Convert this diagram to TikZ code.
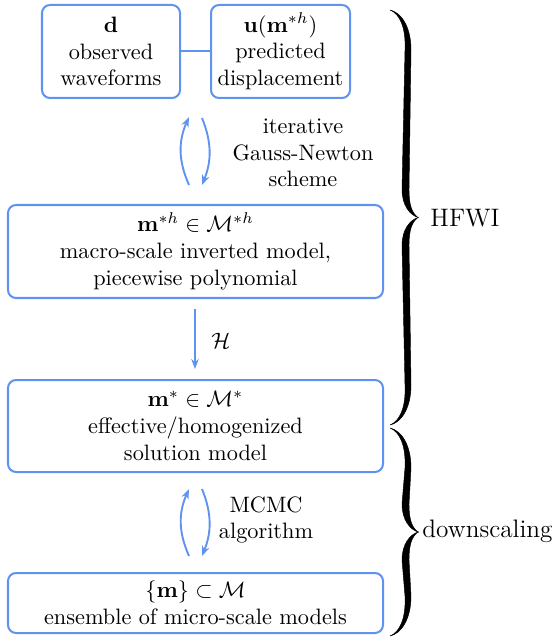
\documentclass[tikz,border=0pt]{standalone}
\usepackage{amsmath,amssymb}
\usetikzlibrary{arrows.meta}
\definecolor{boxblue}{RGB}{96,146,240}
\tikzset{
  box/.style={draw=boxblue, line width=0.9pt, rounded corners=3.6pt, align=center, inner sep=0pt},
  arr/.style={draw=boxblue, line width=0.85pt, -{Stealth[length=4.5pt,width=3.4pt]}},
  lbl/.style={align=center, inner sep=0pt},
  bigl/.style={inner sep=0pt, anchor=west, font=\fontsize{11.35}{13.6}\selectfont},
  bracefill/.style={fill=black, draw=black, line width=0.2pt}
}
\newcommand\mybrace[3]{%
  \fill[bracefill] (390,#1) .. controls (400,#1+4) and (406,#1+18) .. (405,#1+40)
    -- (402,#2-28) .. controls (402,#2-12) and (410,#2-2.5) .. (418,#2)
    .. controls (412,#2-4.5) and (409,#2-12) .. (409,#2-28)
    -- (411,#1+40) .. controls (411,#1+15) and (400,#1+2) .. (390,#1) -- cycle;
  \fill[bracefill] (418,#2) .. controls (410,#2+2.5) and (402,#2+12) .. (402,#2+28)
    -- (405,#3-40) .. controls (406,#3-18) and (400,#3-4) .. (390,#3)
    .. controls (400,#3-2) and (411,#3-15) .. (411,#3-40)
    -- (409,#2+28) .. controls (409,#2+12) and (412,#2+4.5) .. (418,#2) -- cycle;
}
\begin{document}
\begin{tikzpicture}[x=0.449pt,y=-0.449pt]
\useasboundingbox (0,0) rectangle (558,639);
% boxes
\node[box, minimum width=138*0.449pt, minimum height=93*0.449pt] (d) at (111,51.5) {$\mathbf{d}$\\observed\\waveforms};
\node[box, minimum width=139*0.449pt, minimum height=93*0.449pt] (u) at (280.5,51.5) {$\mathbf{u}(\mathbf{m}^{*h})$\\predicted\\displacement};
\node[box, minimum width=375*0.449pt, minimum height=93*0.449pt] (mh) at (195.5,251.5) {$\mathbf{m}^{*h}\in\mathcal{M}^{*h}$\\macro-scale inverted model,\\piecewise polynomial};
\node[box, minimum width=375*0.449pt, minimum height=92*0.449pt] (ms) at (195.5,426) {$\mathbf{m}^{*}\in\mathcal{M}^{*}$\\effective/homogenized\\solution model};
\node[box, minimum width=375*0.449pt, minimum height=60*0.449pt] (mm) at (195.5,603) {$\{\mathbf{m}\}\subset\mathcal{M}$\\ensemble of micro-scale models};
\draw[draw=boxblue, line width=0.9pt] (d.east) -- (u.west);
% iterative arrows
\coordinate (a1) at (189,185);
\coordinate (a2) at (189,117);
\coordinate (a3) at (202,118);
\coordinate (a4) at (202,185);
\draw[arr] (a1) to[bend left=24] (a2);
\draw[arr] (a3) to[bend left=22] (a4);
\node[lbl] (itl) at (303,153) {iterative\\Gauss-Newton\\scheme};
% H arrow
\coordinate (h1) at (195,309);
\coordinate (h2) at (195,369);
\draw[arr] (h1) -- (h2);
\node[lbl] (hl) at (221,341) {$\mathcal{H}$};
% MCMC arrows
\coordinate (b1) at (189,556);
\coordinate (b2) at (189,489);
\coordinate (b3) at (202,489);
\coordinate (b4) at (202,556);
\draw[arr] (b1) to[bend left=24] (b2);
\draw[arr] (b3) to[bend left=22] (b4);
\node[lbl] (mcl) at (266,520) {MCMC\\algorithm};
% braces
\mybrace{10}{217.5}{425}
\node[bigl] (hf) at (430,218) {HFWI};
\mybrace{428}{532}{636}
\node[bigl] (ds) at (422,531) {downscaling};
\end{tikzpicture}
\end{document}
